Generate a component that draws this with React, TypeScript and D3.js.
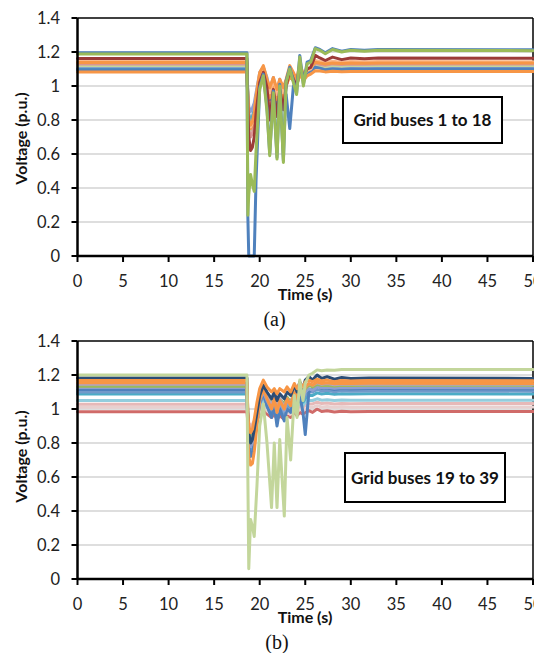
import React from "react";
import * as d3 from "d3";

// ---------- DATA ----------
const xTicks = [0, 5, 10, 15, 20, 25, 30, 35, 40, 45, 50];
const yTicks = [0, 0.2, 0.4, 0.6, 0.8, 1, 1.2, 1.4];

// time grid for chart (a)
const timesA = [0, 18.6, 18.7, 18.8, 19.0, 19.2, 19.4, 19.6, 20.0, 20.4, 20.8, 21.1, 21.5, 21.9, 22.2, 22.6, 22.9, 23.3, 23.7, 24.05, 24.4, 24.8, 25.2, 25.6, 26.1, 26.6, 27.2, 28.0, 29.0, 30.0, 31.5, 33.0, 50];

const aBlueZero = [1.195, 1.195, 0.23, 0.0, 0.0, 0.0, 0.0, 0.45, 0.99, 1.07, 0.87, 0.6, 0.97, 0.58, 1.01, 0.56, 1.03, 1.11, 1.03, 0.96, 1.18, 1.01, 1.14, 1.15, 1.225, 1.215, 1.195, 1.22, 1.205, 1.215, 1.21, 1.215, 1.213];
const aGreen = [1.188, 1.188, 0.24, 0.36, 0.48, 0.42, 0.38, 0.62, 0.98, 1.06, 0.85, 0.59, 0.96, 0.57, 1.0, 0.55, 1.02, 1.1, 1.02, 0.95, 1.17, 1.0, 1.13, 1.14, 1.22, 1.21, 1.19, 1.215, 1.2, 1.21, 1.205, 1.21, 1.208];
const aRed = [1.162, 1.162, 0.88, 0.7, 0.62, 0.64, 0.7, 0.84, 1.02, 1.08, 0.99, 0.8, 0.98, 0.82, 0.98, 0.86, 1.0, 1.09, 1.04, 1.0, 1.12, 1.05, 1.1, 1.11, 1.18, 1.165, 1.15, 1.17, 1.155, 1.165, 1.16, 1.165, 1.163];
const aPurple = [1.118, 1.118, 0.95, 0.88, 0.85, 0.87, 0.9, 0.96, 1.08, 1.11, 1.05, 0.98, 1.05, 0.96, 1.04, 0.97, 1.03, 1.09, 1.06, 1.03, 1.1, 1.06, 1.09, 1.1, 1.125, 1.115, 1.11, 1.115, 1.11, 1.114, 1.112, 1.114, 1.113];
const aAqua = [1.1, 1.1, 0.92, 0.83, 0.8, 0.82, 0.86, 0.93, 1.06, 1.1, 1.03, 0.95, 1.03, 0.94, 1.02, 0.95, 1.02, 1.08, 1.05, 1.02, 1.09, 1.05, 1.08, 1.09, 1.12, 1.11, 1.1, 1.105, 1.1, 1.104, 1.102, 1.104, 1.103];
const aBlue = [1.095, 1.095, 0.9, 0.8, 0.76, 0.78, 0.83, 0.92, 1.05, 1.09, 1.01, 0.92, 1.01, 0.9, 1.0, 0.88, 0.95, 0.75, 1.0, 1.0, 1.08, 1.04, 1.08, 1.09, 1.11, 1.105, 1.095, 1.1, 1.097, 1.1, 1.098, 1.1, 1.1];
const aPink = [1.13, 1.13, 0.88, 0.74, 0.7, 0.72, 0.78, 0.88, 1.04, 1.09, 1.0, 0.9, 1.0, 0.88, 0.99, 0.9, 1.0, 1.07, 1.04, 1.0, 1.09, 1.04, 1.08, 1.09, 1.135, 1.128, 1.122, 1.13, 1.126, 1.13, 1.128, 1.13, 1.13];
const aLightGreen = [1.12, 1.12, 0.9, 0.78, 0.74, 0.76, 0.81, 0.9, 1.05, 1.09, 1.01, 0.9, 1.01, 0.89, 1.0, 0.9, 1.0, 1.07, 1.04, 1.0, 1.09, 1.04, 1.08, 1.09, 1.125, 1.12, 1.115, 1.12, 1.118, 1.12, 1.12, 1.12, 1.12];
const aLavender = [1.106, 1.106, 0.93, 0.84, 0.8, 0.82, 0.86, 0.94, 1.06, 1.1, 1.03, 0.96, 1.03, 0.95, 1.02, 0.96, 1.02, 1.07, 1.04, 1.01, 1.08, 1.04, 1.07, 1.08, 1.115, 1.108, 1.104, 1.108, 1.106, 1.108, 1.107, 1.108, 1.108];
const aLightOrange = [1.145, 1.145, 0.9, 0.79, 0.76, 0.78, 0.83, 0.93, 1.07, 1.11, 1.03, 0.96, 1.04, 0.95, 1.03, 0.96, 1.03, 1.1, 1.06, 1.02, 1.11, 1.06, 1.09, 1.1, 1.15, 1.145, 1.138, 1.145, 1.14, 1.144, 1.142, 1.144, 1.143];
const aOrangeLow = [1.082, 1.082, 0.9, 0.78, 0.75, 0.77, 0.82, 0.91, 1.05, 1.09, 1.01, 0.93, 1.01, 0.92, 1.0, 0.93, 1.0, 1.06, 1.03, 1.0, 1.07, 1.03, 1.06, 1.07, 1.09, 1.088, 1.083, 1.087, 1.084, 1.086, 1.085, 1.086, 1.085];
const aOrangeTop = [1.138, 1.138, 0.92, 0.8, 0.77, 0.79, 0.84, 0.94, 1.08, 1.12, 1.04, 0.99, 1.05, 0.98, 1.04, 0.99, 1.04, 1.12, 1.08, 1.04, 1.13, 1.07, 1.1, 1.11, 1.14, 1.135, 1.13, 1.135, 1.132, 1.135, 1.134, 1.135, 1.135];

const seriesA = [
  { name: "bus 3", color: "#B3A2C7", values: aLavender },
  { name: "bus 4", color: "#4BACC6", values: aAqua },
  { name: "bus 5", color: "#8E9FD0", values: aPurple },
  { name: "bus 6", color: "#C3D69B", values: aLightGreen },
  { name: "bus 7", color: "#D99694", values: aPink },
  { name: "bus 8", color: "#4F81BD", values: aBlue },
  { name: "bus 9", color: "#F79646", values: aOrangeLow },
  { name: "bus 10", color: "#FAB88A", values: aLightOrange },
  { name: "bus 11", color: "#F79646", values: aOrangeTop },
  { name: "bus 12", color: "#9C3B38", values: aRed },
  { name: "bus 1", color: "#4F81BD", values: aBlueZero },
  { name: "bus 2", color: "#9BBB59", values: aGreen },
];

// time grid for chart (b)
const timesB = [0, 18.6, 18.7, 18.8, 19.0, 19.2, 19.4, 19.7, 20.0, 20.4, 20.8, 21.3, 21.6, 21.9, 22.2, 22.7, 23.0, 23.4, 23.8, 24.1, 24.4, 24.75, 25.0, 25.4, 25.8, 26.3, 26.8, 27.4, 28.2, 29.0, 30.0, 32.0, 50];

const bPaleGreen = [1.2, 1.2, 0.6, 0.06, 0.35, 0.31, 0.25, 0.55, 0.9, 1.03, 0.8, 0.42, 0.8, 0.42, 0.82, 0.37, 0.95, 0.7, 1.08, 0.95, 1.17, 1.05, 1.15, 1.2, 1.21, 1.23, 1.225, 1.23, 1.228, 1.232, 1.232, 1.232, 1.232];
const bDarkBlue = [1.182, 1.182, 0.95, 0.86, 0.8, 0.82, 0.88, 0.98, 1.08, 1.14, 1.1, 1.06, 1.1, 1.05, 1.09, 1.06, 1.1, 1.08, 1.14, 1.1, 1.16, 1.12, 1.17, 1.19, 1.17, 1.2, 1.18, 1.19, 1.175, 1.185, 1.18, 1.182, 1.18];
const bOrange = [1.167, 1.167, 0.98, 0.9, 0.86, 0.88, 0.94, 1.04, 1.12, 1.17, 1.13, 1.1, 1.12, 1.09, 1.12, 1.1, 1.13, 1.1, 1.15, 1.12, 1.15, 1.13, 1.16, 1.17, 1.16, 1.175, 1.165, 1.17, 1.16, 1.168, 1.165, 1.167, 1.166];
const bOrangeLow = [1.155, 1.155, 0.85, 0.72, 0.67, 0.68, 0.75, 0.9, 1.05, 1.12, 1.06, 1.0, 1.06, 0.98, 1.05, 1.0, 1.06, 1.02, 1.1, 1.06, 1.12, 1.08, 1.13, 1.15, 1.14, 1.16, 1.15, 1.155, 1.148, 1.152, 1.15, 1.151, 1.15];
const bLavender = [1.146, 1.146, 0.93, 0.84, 0.8, 0.82, 0.87, 0.97, 1.07, 1.12, 1.07, 1.02, 1.07, 1.0, 1.06, 1.01, 1.06, 1.03, 1.1, 1.07, 1.12, 1.09, 1.13, 1.15, 1.14, 1.155, 1.145, 1.15, 1.142, 1.147, 1.145, 1.146, 1.145];
const bGreen = [1.134, 1.134, 0.94, 0.85, 0.82, 0.84, 0.89, 0.98, 1.07, 1.12, 1.07, 1.03, 1.07, 1.02, 1.06, 1.03, 1.07, 1.04, 1.1, 1.07, 1.11, 1.09, 1.12, 1.14, 1.13, 1.145, 1.138, 1.14, 1.135, 1.14, 1.138, 1.14, 1.14];
const bPurple = [1.126, 1.126, 0.92, 0.82, 0.78, 0.8, 0.85, 0.95, 1.05, 1.1, 1.05, 1.0, 1.05, 0.98, 1.04, 0.99, 1.04, 1.02, 1.08, 1.05, 1.1, 1.07, 1.1, 1.12, 1.11, 1.13, 1.125, 1.128, 1.122, 1.126, 1.125, 1.126, 1.125];
const bBlue = [1.115, 1.115, 0.9, 0.78, 0.72, 0.74, 0.8, 0.93, 1.04, 1.1, 1.02, 0.95, 1.02, 0.9, 1.0, 0.93, 1.0, 0.98, 1.07, 1.02, 1.08, 0.98, 0.85, 1.1, 1.12, 1.14, 1.12, 1.125, 1.115, 1.12, 1.118, 1.12, 1.118];
const bBlue2 = [1.1, 1.1, 0.9, 0.8, 0.74, 0.76, 0.82, 0.93, 1.03, 1.08, 1.02, 0.96, 1.02, 0.93, 1.01, 0.95, 1.01, 0.99, 1.06, 1.03, 1.08, 1.05, 1.08, 1.1, 1.1, 1.115, 1.105, 1.11, 1.102, 1.108, 1.105, 1.106, 1.105];
const bTeal = [1.088, 1.088, 0.92, 0.86, 0.84, 0.86, 0.9, 0.97, 1.04, 1.08, 1.03, 0.99, 1.03, 0.98, 1.02, 0.99, 1.02, 1.0, 1.05, 1.03, 1.06, 1.04, 1.06, 1.08, 1.08, 1.095, 1.088, 1.092, 1.086, 1.09, 1.088, 1.089, 1.088];
const bLightAqua = [1.05, 1.05, 0.93, 0.88, 0.86, 0.88, 0.91, 0.96, 1.01, 1.05, 1.01, 0.98, 1.01, 0.97, 1.0, 0.98, 1.0, 0.99, 1.03, 1.01, 1.04, 1.02, 1.04, 1.05, 1.05, 1.06, 1.052, 1.055, 1.05, 1.053, 1.051, 1.052, 1.052];
const bPink = [1.028, 1.028, 0.96, 0.92, 0.9, 0.91, 0.93, 0.97, 1.0, 1.04, 1.01, 0.99, 1.01, 0.98, 1.0, 0.98, 1.0, 0.99, 1.02, 1.0, 1.02, 1.01, 1.02, 1.03, 1.03, 1.04, 1.032, 1.035, 1.03, 1.033, 1.031, 1.032, 1.032];
const bLightPink = [1.01, 1.01, 0.94, 0.9, 0.88, 0.89, 0.91, 0.95, 0.98, 1.02, 0.99, 0.97, 0.99, 0.96, 0.98, 0.96, 0.98, 0.97, 1.0, 0.98, 1.0, 0.99, 1.0, 1.01, 1.01, 1.02, 1.012, 1.015, 1.01, 1.013, 1.011, 1.012, 1.012];
const bRed = [0.984, 0.984, 0.92, 0.88, 0.86, 0.87, 0.89, 0.93, 0.97, 1.0, 0.97, 0.95, 0.97, 0.94, 0.96, 0.94, 0.96, 0.95, 0.98, 0.96, 0.98, 0.97, 0.98, 0.99, 0.98, 1.0, 0.985, 0.99, 0.982, 0.987, 0.984, 0.985, 0.985];

const seriesB = [
  { name: "bus 19", color: "#D06B69", values: bRed },
  { name: "bus 20", color: "#E8D0CF", values: bLightPink },
  { name: "bus 21", color: "#E6B9B8", values: bPink },
  { name: "bus 22", color: "#93CDDD", values: bLightAqua },
  { name: "bus 23", color: "#4BACC6", values: bTeal },
  { name: "bus 24", color: "#729ACA", values: bBlue2 },
  { name: "bus 25", color: "#4F81BD", values: bBlue },
  { name: "bus 26", color: "#8E9FD0", values: bPurple },
  { name: "bus 27", color: "#9BBB59", values: bGreen },
  { name: "bus 28", color: "#B3A2C7", values: bLavender },
  { name: "bus 29", color: "#F79646", values: bOrangeLow },
  { name: "bus 30", color: "#2C4D75", values: bDarkBlue },
  { name: "bus 31", color: "#F79646", values: bOrange },
  { name: "bus 32", color: "#C3D69B", values: bPaleGreen },
];

// ---------- LAYOUT ----------
const W = 534;
const H = 653;
const X0 = 77.5;
const X1 = 533;
const PLOT_H = 238;
const FONT = "Lato, 'Open Sans', sans-serif";

type Series = { name: string; color: string; values: number[] };

function Panel(props: {
  top: number;
  times: number[];
  series: Series[];
  boxText: string;
  box: { x: number; y: number; w: number; h: number };
  caption: string;
  captionX: number;
  ylabelY: number;
}) {
  const { top, times, series, boxText, box, caption, captionX, ylabelY } = props;
  const x = d3.scaleLinear().domain([0, 50]).range([X0, X1]);
  const y = d3.scaleLinear().domain([0, 1.4]).range([top + PLOT_H, top]);
  const line = d3
    .line<number>()
    .x((_, i) => x(times[i]))
    .y((d) => y(d));
  const bottom = y(0);
  return (
    <g>
      {yTicks.slice(1, -1).map((t) => (
        <line key={"g" + t} x1={X0} x2={X1} y1={y(t)} y2={y(t)} stroke="#BDBDBD" strokeWidth={1.2} />
      ))}
      {/* top & right border */}
      <line x1={X0} x2={X1} y1={y(1.4)} y2={y(1.4)} stroke="#000" strokeWidth={1.5} />
      <line x1={X1} x2={X1} y1={y(1.4)} y2={bottom} stroke="#000" strokeWidth={1.5} />
      {series.map((s) => (
        <path
          key={s.name}
          d={line(s.values) || ""}
          fill="none"
          stroke={s.color}
          strokeWidth={3}
          strokeLinejoin="round"
          strokeLinecap="round"
        />
      ))}
      {/* axes */}
      <line x1={X0} x2={X0} y1={y(1.4)} y2={bottom} stroke="#000" strokeWidth={2.5} />
      <line x1={X0} x2={X1} y1={bottom} y2={bottom} stroke="#000" strokeWidth={2.5} />
      {yTicks.map((t) => (
        <g key={"y" + t}>
          <line x1={X0 - 6} x2={X0} y1={y(t)} y2={y(t)} stroke="#000" strokeWidth={2} />
          <text x={60} y={y(t)} dy="0.36em" textAnchor="end" fontFamily={FONT} fontSize={16.5} fill="#222">
            {String(t)}
          </text>
        </g>
      ))}
      {xTicks.map((t) => (
        <g key={"x" + t}>
          <line x1={x(t)} x2={x(t)} y1={bottom} y2={bottom + 6} stroke="#000" strokeWidth={2} />
          <text x={x(t)} y={bottom + 31} textAnchor="middle" fontFamily={FONT} fontSize={16.5} fill="#222">
            {String(t)}
          </text>
        </g>
      ))}
      <text x={305} y={bottom + 44} textAnchor="middle" fontFamily={FONT} fontWeight="bold" fontSize={16} fill="#111">
        Time (s)
      </text>
      <text
        transform={`translate(26.5,${ylabelY}) rotate(-90)`}
        textAnchor="middle"
        fontFamily={FONT}
        fontWeight="bold"
        fontSize={16}
        fill="#111"
      >
        Voltage (p.u.)
      </text>
      <rect x={box.x} y={box.y} width={box.w} height={box.h} fill="#fff" stroke="#000" strokeWidth={2} />
      <text
        x={box.x + box.w / 2}
        y={box.y + box.h / 2}
        dy="0.36em"
        textAnchor="middle"
        fontFamily={FONT}
        fontWeight="bold"
        fontSize={17}
        fill="#111"
      >
        {boxText}
      </text>
      <text x={captionX} y={bottom + 70} textAnchor="middle" fontFamily="'Liberation Serif', 'Times New Roman', serif" fontSize={20} fill="#111">
        {caption}
      </text>
    </g>
  );
}

export default function App() {
  return (
    <svg
      width={W}
      height={H}
      viewBox={`0 0 ${W} ${H}`}
      style={{ position: "absolute", left: 0, top: 0, background: "#fff" }}
    >
      <rect x={0} y={0} width={W} height={H} fill="#fff" />
      <Panel
        top={18}
        times={timesA}
        series={seriesA}
        boxText="Grid buses 1 to 18"
        box={{ x: 343, y: 97, w: 159, h: 46 }}
        caption="(a)"
        captionX={274.5}
        ylabelY={138.5}
      />
      <Panel
        top={341}
        times={timesB}
        series={seriesB}
        boxText="Grid buses 19 to 39"
        box={{ x: 345, y: 453, w: 160, h: 49 }}
        caption="(b)"
        captionX={277}
        ylabelY={456.5}
      />
    </svg>
  );
}
